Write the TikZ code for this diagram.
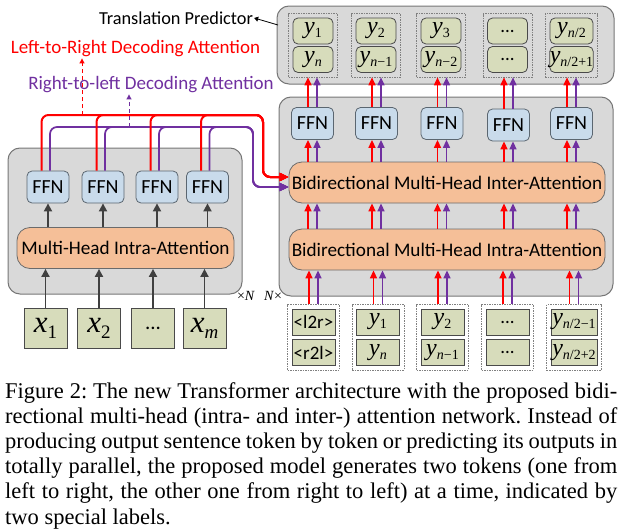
\documentclass[tikz,border=0pt]{standalone}
\usepackage{fontspec}
\setmainfont{Liberation Serif}
\newfontfamily\calib{Carlito}
\newfontfamily\tms{Liberation Serif}
\usetikzlibrary{arrows.meta,fit}
\definecolor{panelgray}{HTML}{D9D9D9}
\definecolor{panelline}{HTML}{767676}
\definecolor{ffnblue}{HTML}{C9DBEB}
\definecolor{ffnline}{HTML}{5B6670}
\definecolor{attorange}{HTML}{F5BF98}
\definecolor{attline}{HTML}{6B6B6B}
\definecolor{tokgreen}{HTML}{D7DCBB}
\definecolor{tokline}{HTML}{4A4A4A}
\definecolor{myred}{HTML}{FF0000}
\definecolor{mypurple}{HTML}{7030A0}
\definecolor{darkarrow}{HTML}{404040}
\newcommand\vsub[2]{{\tms\itshape\fontsize{24}{24}\selectfont #1}\raisebox{-4pt}{\tms\fontsize{14}{14}\selectfont #2}}
\newcommand\vxin[2]{{\tms\itshape\fontsize{31}{31}\selectfont #1}\raisebox{-6pt}{\tms\fontsize{19}{19}\selectfont #2}}
\tikzset{
  panel/.style={draw=panelline, fill=panelgray, line width=1pt, rounded corners=12pt, inner sep=0pt},
  ffnbox/.style={draw=ffnline, fill=ffnblue, line width=0.8pt, rounded corners=5pt, minimum width=42pt, minimum height=32pt, inner sep=0pt, font=\calib\fontsize{20}{20}\selectfont},
  attbox/.style={draw=attline, fill=attorange, line width=0.8pt, rounded corners=13pt, minimum height=41pt, inner sep=0pt, font=\calib\fontsize{19.2}{19.2}\selectfont},
  tokbox/.style={draw=tokline, fill=tokgreen, line width=0.8pt, minimum width=43pt, minimum height=26pt, inner sep=0pt, font=\calib\fontsize{19}{19}\selectfont},
  tokround/.style={tokbox, rounded corners=5pt, minimum width=40pt},
  inbox/.style={draw=tokline, fill=tokgreen, line width=0.8pt, minimum width=43pt, minimum height=40pt, inner sep=0pt},
  grp/.style={draw=gray, line width=0.8pt, dash pattern=on 1.5pt off 1pt, inner sep=4pt},
  darr/.style={draw=darkarrow, line width=1.8pt, -{Triangle[length=8pt,width=8pt]}},
  rarr/.style={draw=myred, line width=1.6pt, -{Triangle[length=8pt,width=7pt]}},
  parr/.style={draw=mypurple, line width=1.6pt, -{Triangle[length=8pt,width=7pt]}},
  lbl/.style={font=\calib\fontsize{19}{19}\selectfont, inner sep=1pt},
}
\begin{document}
\begin{tikzpicture}[x=1pt,y=-1pt]
\useasboundingbox (0,0) rectangle (621,530);
% panels
\node[panel, minimum width=234pt, minimum height=146pt] (enc) at (125,221) {};
\node[panel, minimum width=334pt, minimum height=199pt] (dec) at (446,196.5) {};
\node[panel, minimum width=337pt, minimum height=78pt] (pred) at (445.5,45) {};
% encoder
\node[attbox, minimum width=217pt] (encatt) at (125.5,248) {Multi-Head Intra-Attention};
\node[ffnbox] (lf1) at (48,187) {FFN};
\node[ffnbox] (lf2) at (103,187) {FFN};
\node[ffnbox] (lf3) at (157,187) {FFN};
\node[ffnbox] (lf4) at (207.5,187) {FFN};
\node[inbox] (x1) at (45.5,328) {\vxin{x}{1}};
\node[inbox] (x2) at (99,328) {\vxin{x}{2}};
\node[inbox, font=\calib\fontsize{21}{21}\selectfont] (x3) at (153,328) {...};
\node[inbox] (x4) at (204.5,328) {\vxin{x}{\itshape m}};
\foreach \i in {1,...,4}{
  \draw[darr] (x\i.north) -- (x\i.north |- encatt.south);
  \draw[darr] (lf\i.south |- encatt.north) -- (lf\i.south);
}
\node[font=\tms\fontsize{14}{14}\selectfont, inner sep=0pt] (nl) at (246,296) {×\textit{N}};
\node[font=\tms\fontsize{14}{14}\selectfont, inner sep=0pt] (nr) at (273,296) {\textit{N}×};
% decoder
\node[attbox, minimum width=316pt] (dinter) at (447,182.5) {Bidirectional Multi-Head Inter-Attention};
\node[attbox, minimum width=316pt] (dintra) at (447,249.5) {Bidirectional Multi-Head Intra-Attention};
\node[ffnbox] (df1) at (312.5,123.5) {FFN};
\node[ffnbox] (df2) at (376.5,123.5) {FFN};
\node[ffnbox] (df3) at (442,123.5) {FFN};
\node[ffnbox] (df4) at (508.5,125) {FFN};
\node[ffnbox] (df5) at (571.5,123.5) {FFN};
% bottom inputs
\node[tokbox] (b1a) at (313.5,322) {<l2r>};
\node[tokbox] (b1b) at (313.5,352.5) {<r2l>};
\node[tokbox] (b2a) at (378,322) {\vsub{y}{1}};
\node[tokbox] (b2b) at (378,352.5) {\vsub{y}{\itshape n}};
\node[tokbox] (b3a) at (442.5,322) {\vsub{y}{2}};
\node[tokbox] (b3b) at (442.5,352.5) {\vsub{y}{{\itshape n}−1}};
\node[tokbox] (b4a) at (507.5,322) {...};
\node[tokbox] (b4b) at (507.5,352.5) {...};
\node[tokbox, minimum width=46pt] (b5a) at (574,322) {\vsub{y}{{\itshape n}/2−1}};
\node[tokbox, minimum width=46pt] (b5b) at (574,352.5) {\vsub{y}{{\itshape n}/2+2}};
\foreach \i in {1,...,5}{
  \node[grp, fit=(b\i a)(b\i b)] (gb\i) {};
}
% top predictions
\node[tokround] (t1a) at (313,31) {\vsub{y}{1}};
\node[tokround] (t1b) at (313,59.5) {\vsub{y}{\itshape n}};
\node[tokround] (t2a) at (376,31) {\vsub{y}{2}};
\node[tokround] (t2b) at (376,59.5) {\vsub{y}{{\itshape n}−1}};
\node[tokround] (t3a) at (441,31) {\vsub{y}{3}};
\node[tokround] (t3b) at (441,59.5) {\vsub{y}{{\itshape n}−2}};
\node[tokround] (t4a) at (507.5,31) {...};
\node[tokround] (t4b) at (507.5,59.5) {...};
\node[tokround, minimum width=43pt] (t5a) at (571.5,31) {\vsub{y}{{\itshape n}/2}};
\node[tokround, minimum width=43pt] (t5b) at (571.5,59.5) {\vsub{y}{{\itshape n}/2+1}};
\foreach \i in {1,...,5}{
  \node[grp, fit=(t\i a)(t\i b)] (gt\i) {};
}
% decoder arrows
\foreach \i in {1,...,5}{
  \draw[rarr] ([xshift=-4.5pt]gb\i.north) -- ([xshift=-4.5pt]gb\i.north |- dintra.south);
  \draw[parr] ([xshift=4.5pt]gb\i.north) -- ([xshift=4.5pt]gb\i.north |- dintra.south);
  \draw[rarr] ([xshift=-4.5pt]df\i.south |- dintra.north) -- ([xshift=-4.5pt]df\i.south |- dinter.south);
  \draw[parr] ([xshift=4.5pt]df\i.south |- dintra.north) -- ([xshift=4.5pt]df\i.south |- dinter.south);
  \draw[rarr] ([xshift=-4.5pt]df\i.south |- dinter.north) -- ([xshift=-4.5pt]df\i.south);
  \draw[parr] ([xshift=4.5pt]df\i.south |- dinter.north) -- ([xshift=4.5pt]df\i.south);
  \draw[rarr] ([xshift=-4.5pt]df\i.north) -- ([xshift=-4.5pt]df\i.north |- gt\i.south);
  \draw[parr] ([xshift=4.5pt]df\i.north) -- ([xshift=4.5pt]df\i.north |- gt\i.south);
}
% encoder to decoder connections
\coordinate (rc) at (263,115);
\coordinate (pc) at (253,127);
\foreach \i in {1,...,4}{
  \draw[draw=mypurple, line width=1.7pt, rounded corners=7pt, -{Triangle[length=9pt,width=8pt]}] ([xshift=2pt]lf\i.north) |- (pc) |- ([yshift=-4.5pt]dinter.west);
}
\foreach \i in {1,...,4}{
  \draw[draw=myred, line width=2pt, rounded corners=7pt, -{Triangle[length=9pt,width=8pt]}] ([xshift=-6.5pt]lf\i.north) |- (rc) |- ([yshift=5.5pt]dinter.west);
}
% labels
\node[lbl, text=myred] (lr) at (135.5,49) {Left-to-Right Decoding Attention};
\node[lbl, text=mypurple] (rl) at (151,85) {Right-to-left Decoding Attention};
\node[lbl, text=black, font=\calib\fontsize{18.3}{18.3}\selectfont] (tp) at (176,18) {Translation Predictor};
\coordinate (rd) at (82,115);
\coordinate (pd) at (129,127);
\draw[draw=myred, line width=1pt, dash pattern=on 4pt off 3pt, -{Triangle[length=5pt,width=5pt]}] (rd) -- (rd |- lr.south);
\draw[draw=mypurple, line width=1pt, dash pattern=on 4pt off 3pt, -{Triangle[length=5pt,width=5pt]}] (pd) -- (pd |- rl.south);
\coordinate (pa) at (278,25);
\draw[black, line width=0.8pt, -{Triangle[length=4pt,width=5pt]}] (pa) -- (tp.east);
% caption
\node[anchor=north west, inner sep=0pt, align=left, font=\frenchspacing\fontsize{22.5}{25.1}\selectfont] (cap) at (5,382.5) {%
\makebox[612pt][s]{Figure 2: The new Transformer architecture with the proposed bidi-}\\
\makebox[612pt][s]{rectional multi-head (intra- and inter-) attention network. Instead of}\\
\makebox[612pt][s]{producing output sentence token by token or predicting its outputs in}\\
\makebox[612pt][s]{totally parallel, the proposed model generates two tokens (one from}\\
\makebox[612pt][s]{left to right, the other one from right to left) at a time, indicated by}\\
two special labels.};
\end{tikzpicture}
\end{document}
